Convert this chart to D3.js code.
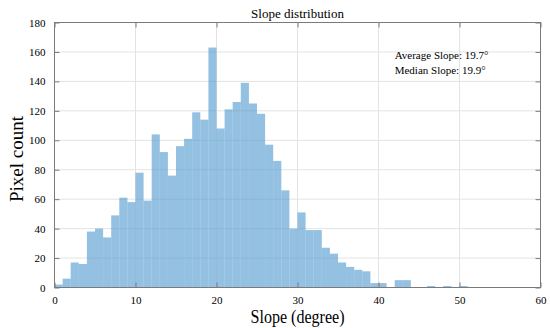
<!DOCTYPE html>
<html>
<head>
<meta charset="utf-8">
<script src="https://cdn.jsdelivr.net/npm/d3@7"></script>
<style>
body { margin: 0; background: #fff; }
text { font-family: "Liberation Serif", "Times New Roman", serif; fill: #000; }
</style>
</head>
<body>
<svg id="chart" width="550" height="328"></svg>
<script>
// histogram: 1 degree bins starting at 0
var binStart = 0;
var binWidth = 1;
var counts = [2, 6, 17, 16, 38, 40, 34, 49, 61, 58,
              78, 59, 104, 92, 76, 96, 101, 119, 114, 163,
              108, 121, 126, 139, 125, 118, 97, 86, 66, 40,
              51, 39, 39, 27, 23, 17, 14, 12, 11, 3,
              3, 0, 5, 5, 0, 0, 1, 0, 1, 0, 1];
var xTicks = [0, 10, 20, 30, 40, 50, 60];
var yTicks = [0, 20, 40, 60, 80, 100, 120, 140, 160, 180];
var titleText = "Slope distribution";
var xLabel = "Slope (degree)";
var yLabel = "Pixel count";
var notes = ["Average Slope: 19.7\u00b0", "Median Slope: 19.9\u00b0"];

var margin = {left: 54.5, right: 9.5, top: 22.5, bottom: 40.5};
var fullWidth = 550, fullHeight = 328;
var width = fullWidth - margin.left - margin.right;
var height = fullHeight - margin.top - margin.bottom;

var svg = d3.select("#chart");
var g = svg.append("g").attr("transform", "translate(" + margin.left + "," + margin.top + ")");

var x = d3.scaleLinear().domain([0, 60]).range([0, width]);
var y = d3.scaleLinear().domain([0, 180]).range([height, 0]);

// grid
g.append("g").attr("class", "grid")
    .selectAll("line.vx").data(xTicks.slice(1, -1)).enter().append("line")
    .attr("x1", d => x(d)).attr("x2", d => x(d))
    .attr("y1", 0).attr("y2", height)
    .attr("stroke", "#e3e3e3").attr("stroke-width", 1);
g.append("g").attr("class", "grid")
    .selectAll("line.hy").data(yTicks.slice(1, -1)).enter().append("line")
    .attr("x1", 0).attr("x2", width)
    .attr("y1", d => y(d)).attr("y2", d => y(d))
    .attr("stroke", "#e3e3e3").attr("stroke-width", 1);

// bars
var bins = counts.map((c, i) => ({x0: binStart + i * binWidth, x1: binStart + (i + 1) * binWidth, n: c}));
g.selectAll("rect.bar").data(bins.filter(d => d.n > 0)).enter().append("rect")
    .attr("class", "bar")
    .attr("x", d => x(d.x0))
    .attr("width", d => x(d.x1) - x(d.x0))
    .attr("y", d => y(d.n))
    .attr("height", d => y(0) - y(d.n))
    .attr("fill", "#4d98cd")
    .attr("fill-opacity", 0.6);

// axes, matlab style ticks pointing in
var axisColor = "#7a7a7a";
function styleAxis(sel) {
    sel.select(".domain").remove();
    sel.selectAll(".tick line").attr("stroke", axisColor);
    sel.selectAll(".tick text").style("font-size", "11px").attr("fill", "#000");
}

g.append("g").attr("transform", "translate(0," + height + ")")
    .call(d3.axisBottom(x).tickValues(xTicks).tickSize(-5).tickPadding(9))
    .call(styleAxis);
g.append("g")
    .call(d3.axisLeft(y).tickValues(yTicks).tickSize(-5).tickPadding(9))
    .call(styleAxis);
g.append("g")
    .call(d3.axisTop(x).tickValues(xTicks).tickSize(-5).tickFormat(""))
    .call(styleAxis);
g.append("g").attr("transform", "translate(" + width + ",0)")
    .call(d3.axisRight(y).tickValues(yTicks).tickSize(-5).tickFormat(""))
    .call(styleAxis);

g.append("rect")
    .attr("width", width).attr("height", height)
    .attr("fill", "none").attr("stroke", axisColor).attr("stroke-width", 1);

// title and labels
svg.append("text")
    .attr("x", margin.left + width / 2).attr("y", 18)
    .attr("text-anchor", "middle")
    .style("font-size", "13px")
    .text(titleText);

svg.append("text")
    .attr("x", margin.left + width / 2).attr("y", 323)
    .attr("text-anchor", "middle")
    .attr("textLength", 94)
    .attr("lengthAdjust", "spacingAndGlyphs")
    .style("font-size", "18px")
    .text(xLabel);

svg.append("text")
    .attr("transform", "translate(23," + (margin.top + height / 2 + 4) + ") rotate(-90)")
    .attr("text-anchor", "middle")
    .style("font-size", "19px")
    .text(yLabel);

g.selectAll("text.note").data(notes).enter().append("text")
    .attr("class", "note")
    .attr("x", x(42))
    .attr("y", (d, i) => y(155 - i * 10))
    .style("font-size", "11px")
    .text(d => d);
</script>
</body>
</html>
